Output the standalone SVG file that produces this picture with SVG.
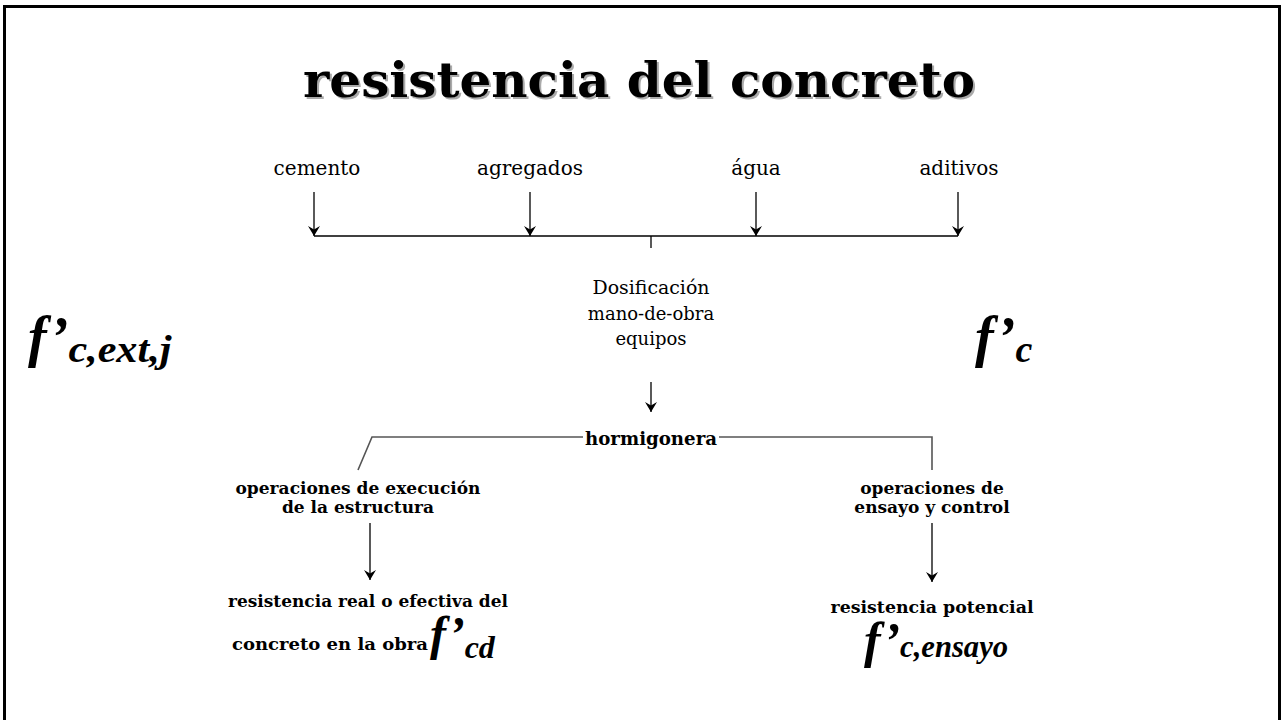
<svg xmlns="http://www.w3.org/2000/svg" width="1282" height="720" viewBox="0 0 1282 720">
<defs>
<marker id="ah" viewBox="0 0 10 12" refX="10" refY="6" markerWidth="10" markerHeight="12" orient="auto" markerUnits="userSpaceOnUse">
<path d="M0,0 L10,6 L0,12 L3.5,6 z" fill="#000"/>
</marker>
<style>
.t{font-family:"DejaVu Serif","Liberation Serif",serif;fill:#000;text-anchor:middle}
.n{font-size:20px}
.s{font-size:18px}
.b{font-size:17px;font-weight:bold}
.f{font-family:"Liberation Serif",serif;font-style:italic;font-weight:bold;fill:#000}
.ln{stroke:#000;stroke-width:1.3;fill:none}
.gl{stroke:#555;stroke-width:1.6;fill:none}
.ar{stroke:#000;stroke-width:1.3;fill:none;marker-end:url(#ah)}
</style>
</defs>
<rect x="0" y="0" width="1282" height="720" fill="#fff"/>
<path d="M4.5,724 V6.5 H1279.5 V724" stroke="#000" stroke-width="3" fill="none"/>
<g id="title">
<text class="t" x="641" y="99" font-size="48" font-weight="bold" style="fill:#aaa" textLength="672" lengthAdjust="spacingAndGlyphs">resistencia del concreto</text>
<text class="t" x="639" y="97" font-size="48" font-weight="bold" textLength="672" lengthAdjust="spacingAndGlyphs">resistencia del concreto</text>
</g>
<g id="cemento"><text class="t n" x="317" y="175">cemento</text></g>
<g id="agregados"><text class="t n" x="530" y="175">agregados</text></g>
<g id="agua"><text class="t n" x="756" y="175">água</text></g>
<g id="aditivos"><text class="t n" x="959" y="175">aditivos</text></g>
<g id="dosificacion">
<text class="t s" x="651" y="294" textLength="117" lengthAdjust="spacingAndGlyphs">Dosificación</text>
<text class="t s" x="651" y="320">mano-de-obra</text>
<text class="t s" x="651" y="345">equipos</text>
</g>
<g id="fcextj"><text class="f" x="28" y="356" font-size="56">f’<tspan font-size="38" dy="6" textLength="103" lengthAdjust="spacingAndGlyphs">c,ext,j</tspan></text></g>
<g id="fc"><text class="f" x="975" y="356" font-size="56">f’<tspan font-size="38" dy="6">c</tspan></text></g>
<g id="hormigonera"><text class="t" x="651" y="445" font-size="18" font-weight="bold" textLength="132" lengthAdjust="spacingAndGlyphs">hormigonera</text></g>
<g id="op-exec">
<text class="t b" x="358" y="494" textLength="245" lengthAdjust="spacingAndGlyphs">operaciones de execución</text>
<text class="t b" x="358" y="513">de la estructura</text>
</g>
<g id="op-ensayo">
<text class="t b" x="932" y="494">operaciones de</text>
<text class="t b" x="932" y="513">ensayo y control</text>
</g>
<g id="res-real">
<text class="t b" x="368" y="607" textLength="280" lengthAdjust="spacingAndGlyphs">resistencia real o efectiva del</text>
<text class="t b" x="330" y="650" textLength="196" lengthAdjust="spacingAndGlyphs">concreto en la obra</text>
<text class="f" x="430" y="650" font-size="48">f’<tspan font-size="32" dy="8">cd</tspan></text>
</g>
<g id="res-pot">
<text class="t b" x="932" y="613" textLength="203" lengthAdjust="spacingAndGlyphs">resistencia potencial</text>
<text class="f" x="864" y="657" font-size="50">f’<tspan font-size="32" textLength="108" lengthAdjust="spacingAndGlyphs">c,ensayo</tspan></text>
</g>
<g id="connectors">
<line class="ar" x1="314" y1="192" x2="314" y2="236"/>
<line class="ar" x1="530" y1="192" x2="530" y2="236"/>
<line class="ar" x1="756" y1="192" x2="756" y2="236"/>
<line class="ar" x1="958" y1="192" x2="958" y2="236"/>
<line class="ln" x1="314" y1="236" x2="958" y2="236"/>
<line class="ln" x1="651" y1="236" x2="651" y2="248"/>
<line class="ar" x1="651" y1="382" x2="651" y2="412"/>
<path class="gl" d="M583,437 H372 L358,470"/>
<path class="gl" d="M719,437 H932 V470"/>
<line class="ar" x1="370" y1="523" x2="370" y2="580"/>
<line class="ar" x1="932" y1="523" x2="932" y2="582"/>
</g>
</svg>
